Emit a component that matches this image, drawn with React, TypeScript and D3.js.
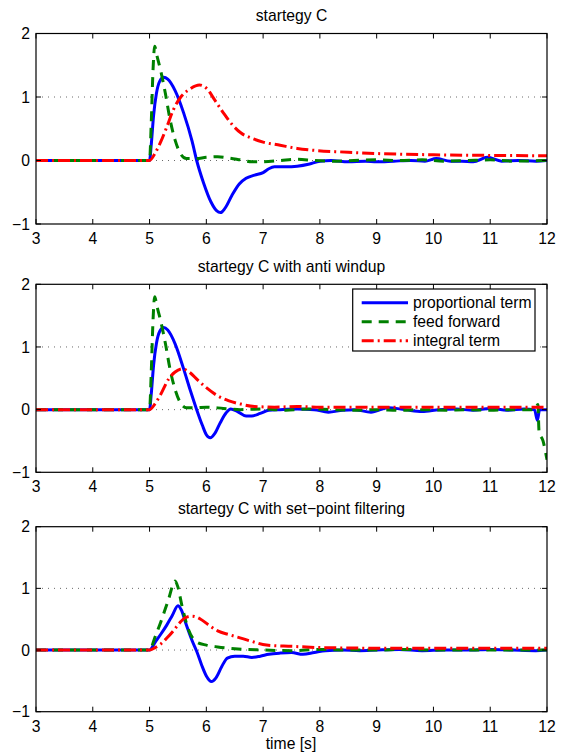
import React from 'react'
import * as d3 from 'd3'

type Pt = [number, number]

// series: [time s, value]
const p1Prop: Pt[] = [[3, 0], [5, 0], [5.03, 0.25], [5.07, 0.7], [5.12, 1.05], [5.18, 1.25], [5.25, 1.31], [5.32, 1.28], [5.45, 1.1], [5.6, 0.75], [5.75, 0.3], [5.83, 0], [5.95, -0.35], [6.08, -0.65], [6.18, -0.79], [6.25, -0.82], [6.33, -0.75], [6.45, -0.55], [6.58, -0.37], [6.7, -0.28], [6.85, -0.23], [7.0, -0.19], [7.1, -0.13], [7.2, -0.1], [7.4, -0.1], [7.6, -0.09], [7.8, -0.06], [8.0, -0.01], [8.2, 0.0], [8.5, -0.02], [8.8, -0.01], [9.0, -0.02], [9.3, -0.01], [9.6, 0.0], [9.85, -0.01], [10.05, 0.03], [10.3, -0.01], [10.5, -0.01], [10.7, -0.02], [10.95, 0.05], [11.2, -0.01], [11.5, 0.0], [11.8, -0.01], [12, 0.0]]
const p1Ff: Pt[] = [[3, 0], [5, 0], [5.03, 0.6], [5.06, 1.4], [5.09, 1.8], [5.13, 1.65], [5.2, 1.4], [5.28, 1.05], [5.36, 0.65], [5.45, 0.32], [5.55, 0.1], [5.65, 0.03], [5.8, 0.03], [6.0, 0.05], [6.2, 0.06], [6.4, 0.04], [6.6, 0.01], [6.8, -0.02], [7.0, -0.02], [7.3, 0.0], [7.6, 0.02], [7.9, 0.0], [8.2, -0.01], [8.6, 0.0], [9.0, 0.01], [9.4, 0.0], [9.8, 0.01], [10.2, -0.01], [10.6, 0.0], [11.0, 0.01], [11.4, -0.01], [12, 0.0]]
const p1Int: Pt[] = [[3, 0], [5, 0], [5.1, 0.12], [5.2, 0.3], [5.3, 0.52], [5.42, 0.8], [5.55, 1.0], [5.7, 1.12], [5.88, 1.19], [6.0, 1.14], [6.15, 0.95], [6.3, 0.75], [6.45, 0.57], [6.6, 0.44], [6.8, 0.35], [7.0, 0.29], [7.3, 0.24], [7.6, 0.19], [7.9, 0.16], [8.5, 0.13], [9.0, 0.11], [10, 0.09], [11, 0.08], [12, 0.075]]

const p2Prop: Pt[] = [[3, 0], [5, 0], [5.03, 0.25], [5.07, 0.7], [5.12, 1.05], [5.18, 1.25], [5.25, 1.31], [5.32, 1.27], [5.45, 1.05], [5.6, 0.65], [5.72, 0.3], [5.83, 0], [5.93, -0.25], [6.0, -0.4], [6.07, -0.45], [6.15, -0.38], [6.25, -0.2], [6.35, -0.05], [6.43, 0.01], [6.55, -0.03], [6.7, -0.1], [6.8, -0.1], [6.95, -0.06], [7.1, -0.01], [7.3, 0.0], [7.6, 0.01], [7.9, 0.0], [8.15, -0.04], [8.4, -0.01], [8.6, 0.0], [8.9, -0.04], [9.2, 0.03], [9.5, 0.0], [9.8, -0.03], [10.1, 0.0], [10.4, 0.01], [10.7, -0.01], [11.0, 0.02], [11.3, -0.01], [11.6, 0.01], [11.78, 0.0], [11.83, -0.17], [11.87, 0.0], [12, 0.0]]
const p2Ff: Pt[] = [[3, 0], [5, 0], [5.03, 0.6], [5.06, 1.4], [5.09, 1.8], [5.13, 1.65], [5.2, 1.4], [5.28, 1.05], [5.36, 0.65], [5.45, 0.32], [5.55, 0.1], [5.65, 0.03], [5.8, 0.03], [6.0, 0.04], [6.3, 0.02], [6.6, 0.0], [7.0, 0.01], [7.4, -0.01], [7.8, 0.01], [8.2, 0.0], [8.6, -0.01], [9.0, 0.0], [9.4, -0.01], [9.8, 0.0], [10.2, -0.01], [10.6, 0.0], [11.0, -0.01], [11.4, 0.0], [11.78, 0.0], [11.84, 0.08], [11.86, -0.35], [11.93, -0.5], [12, -0.8]]
const p2Int: Pt[] = [[3, 0], [5, 0], [5.1, 0.1], [5.2, 0.25], [5.33, 0.48], [5.45, 0.6], [5.58, 0.65], [5.7, 0.6], [5.85, 0.47], [6.0, 0.35], [6.2, 0.22], [6.4, 0.14], [6.6, 0.09], [6.85, 0.05], [7.2, 0.04], [7.6, 0.05], [8, 0.04], [9, 0.04], [10, 0.04], [11, 0.04], [11.8, 0.04], [12, 0.04]]

const p3Prop: Pt[] = [[3, 0], [5, 0], [5.1, 0.13], [5.2, 0.26], [5.3, 0.4], [5.4, 0.56], [5.5, 0.72], [5.56, 0.65], [5.65, 0.4], [5.75, 0.15], [5.83, -0.02], [5.92, -0.25], [6.0, -0.42], [6.09, -0.51], [6.17, -0.45], [6.27, -0.27], [6.37, -0.13], [6.5, -0.1], [6.65, -0.1], [6.8, -0.12], [6.95, -0.1], [7.1, -0.07], [7.3, -0.05], [7.5, -0.04], [7.7, -0.07], [7.9, -0.04], [8.1, -0.01], [8.4, 0.0], [8.7, -0.01], [9.0, 0.0], [9.4, 0.01], [9.8, -0.01], [10.2, 0.0], [10.6, 0.0], [11.0, 0.01], [11.4, 0.0], [11.8, -0.01], [12, 0.0]]
const p3Ff: Pt[] = [[3, 0], [5, 0], [5.1, 0.22], [5.18, 0.41], [5.33, 0.81], [5.45, 1.12], [5.5, 1.02], [5.57, 0.72], [5.69, 0.32], [5.83, 0.13], [6.0, 0.08], [6.2, 0.05], [6.5, 0.02], [7.0, 0.0], [7.5, -0.01], [8, 0.01], [8.5, 0.0], [9, 0.0], [9.5, 0.01], [10, 0.0], [11, 0.0], [12, 0.0]]
const p3Int: Pt[] = [[3, 0], [5, 0], [5.1, 0.04], [5.2, 0.1], [5.3, 0.19], [5.41, 0.3], [5.52, 0.43], [5.62, 0.52], [5.75, 0.55], [5.9, 0.5], [6.05, 0.4], [6.2, 0.31], [6.4, 0.25], [6.55, 0.21], [6.8, 0.14], [7.06, 0.08], [7.5, 0.06], [8, 0.04], [9, 0.03], [10, 0.03], [12, 0.03]]

const titles = ['startegy C', 'startegy C with anti windup', 'startegy C with set\u2212point filtering']
const seriesNames = ['proportional term', 'feed forward', 'integral term']
const xTicks = [3, 4, 5, 6, 7, 8, 9, 10, 11, 12]
const yTicks = [-1, 0, 1, 2]
const gridTicks = [0, 1]

const panelData = [
  [p1Prop, p1Ff, p1Int],
  [p2Prop, p2Ff, p2Int],
  [p3Prop, p3Ff, p3Int]
]

const styles = [
  {stroke: '#0000ff', dash: 'none'},
  {stroke: '#008000', dash: '10,7'},
  {stroke: '#ff0000', dash: '12,4,2,4'}
]

const W = 561
const H = 755
const left = 36
const right = 547
const frames = [
  {top: 33.5, bottom: 224},
  {top: 284.3, bottom: 472.3},
  {top: 526.7, bottom: 711.7}
]
const font = '"Liberation Sans", Arial, Helvetica, sans-serif'
const fs = 15.7

const x = d3.scaleLinear().domain([3, 12]).range([left, right])

function Panel({idx}: {idx: number}) {
  const f = frames[idx]
  const y = d3.scaleLinear().domain([-1, 2]).range([f.bottom, f.top])
  const line = d3
    .line<Pt>()
    .x(d => x(d[0]))
    .y(d => y(d[1]))
    .curve(d3.curveMonotoneX)
  const tick = 5
  return (
    <g>
      <text x={(left + right) / 2} y={f.top - 12.5} textAnchor="middle" fontSize={fs}>
        {titles[idx]}
      </text>
      {gridTicks.map(v => (
        <line key={v} x1={left} x2={right} y1={y(v)} y2={y(v)} stroke="#444" strokeWidth={0.8} strokeDasharray="1,5" />
      ))}
      <clipPath id={'clip' + idx}>
        <rect x={left} y={f.top} width={right - left} height={f.bottom - f.top} />
      </clipPath>
      <g clipPath={`url(#clip${idx})`}>
        {panelData[idx].map((s, i) => (
          <path
            key={i}
            d={line(s) || ''}
            fill="none"
            stroke={styles[i].stroke}
            strokeWidth={3}
            strokeDasharray={styles[i].dash}
            strokeLinejoin="round"
          />
        ))}
      </g>
      {xTicks.map(t => (
        <g key={t}>
          <line x1={x(t)} x2={x(t)} y1={f.bottom} y2={f.bottom - tick} stroke="#000" />
          <line x1={x(t)} x2={x(t)} y1={f.top} y2={f.top + tick} stroke="#000" />
          <text x={x(t)} y={f.bottom + 20} textAnchor="middle" fontSize={fs}>
            {t}
          </text>
        </g>
      ))}
      {yTicks.map(v => (
        <g key={v}>
          <line x1={left} x2={left + tick} y1={y(v)} y2={y(v)} stroke="#000" />
          <line x1={right} x2={right - tick} y1={y(v)} y2={y(v)} stroke="#000" />
          <text x={30} y={y(v) + 5.7} textAnchor="end" fontSize={fs}>
            {v < 0 ? '\u2212' + Math.abs(v) : v}
          </text>
        </g>
      ))}
      <rect x={left} y={f.top} width={right - left} height={f.bottom - f.top} fill="none" stroke="#000" strokeWidth={1.2} />
    </g>
  )
}

function Legend() {
  const lx = 352.7
  const ly = 289
  return (
    <g>
      <rect x={lx} y={ly} width={535 - lx} height={351 - ly} fill="#fff" stroke="#000" strokeWidth={1.2} />
      {seriesNames.map((n, i) => {
        const yy = 302.7 + i * 19
        return (
          <g key={n}>
            <line x1={361.7} x2={408} y1={yy} y2={yy} stroke={styles[i].stroke} strokeWidth={3} strokeDasharray={styles[i].dash} />
            <text x={413} y={yy + 5.7} fontSize={fs}>
              {n}
            </text>
          </g>
        )
      })}
    </g>
  )
}

export default function App() {
  return (
    <svg
      width={W}
      height={H}
      style={{position: 'absolute', left: 0, top: 0, background: '#fff'}}
      fontFamily={font}
    >
      <rect width={W} height={H} fill="#fff" />
      {frames.map((_, i) => (
        <Panel key={i} idx={i} />
      ))}
      <Legend />
      <text x={291} y={749} textAnchor="middle" fontSize={fs}>
        time [s]
      </text>
    </svg>
  )
}
